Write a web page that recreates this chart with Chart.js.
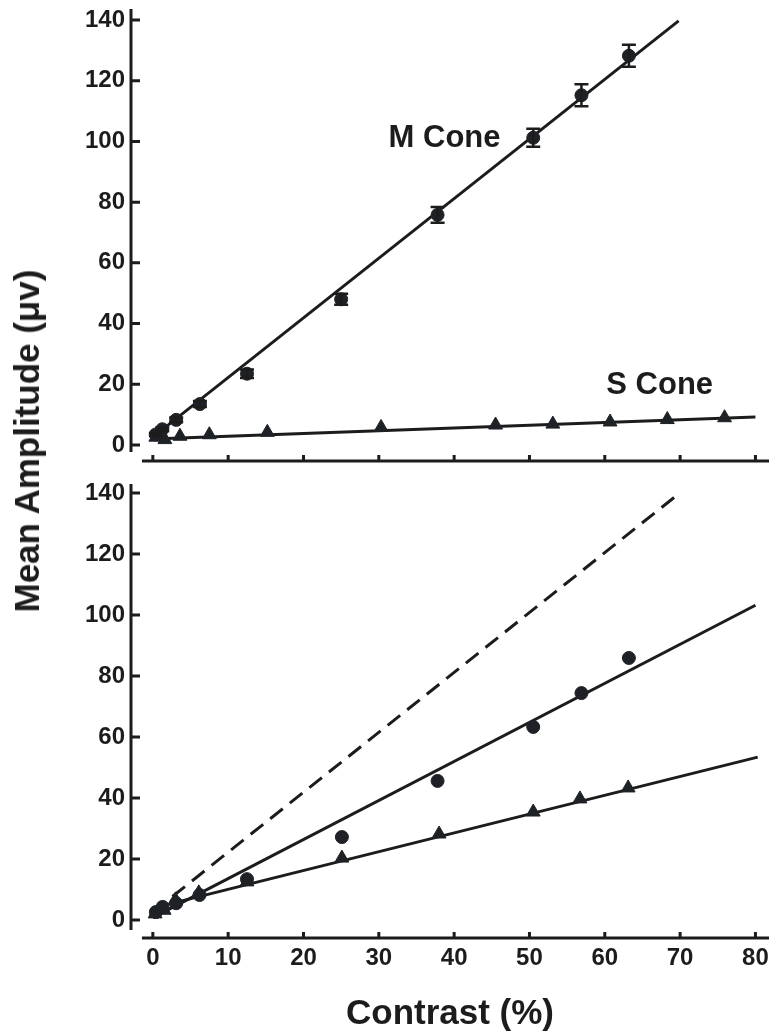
<!DOCTYPE html>
<html>
<head>
<meta charset="utf-8">
<script src="https://cdn.jsdelivr.net/npm/chart.js@4.4.1/dist/chart.umd.min.js"></script>
<style>
  body { margin: 0; background: #fff; width: 778px; height: 1032px; position: relative; overflow: hidden; }
  .panel { position: absolute; left: 0; width: 778px; }
  #yTitle {
    position: absolute; left: 27px; top: 441px;
    transform: translate(-50%, -50%) rotate(-90deg);
    font: bold 35px "Liberation Sans", Arial, sans-serif; color: #1c1c1c; white-space: nowrap;
  }
</style>
</head>
<body>
<div class="panel" style="top:0;height:470px"><canvas id="topChart" width="778" height="470"></canvas></div>
<div class="panel" style="top:470px;height:562px"><canvas id="bottomChart" width="778" height="562"></canvas></div>
<div id="yTitle">Mean Amplitude (μv)</div>
<script>
// axis ticks
const xTicks = [0, 10, 20, 30, 40, 50, 60, 70, 80];
const yTicks = [0, 20, 40, 60, 80, 100, 120, 140];

// top panel - M cone (circles, +/- error) and S cone (triangles)
const mConeX = [0.4, 1.25, 3.1, 6.25, 12.5, 25, 37.8, 50.5, 56.9, 63.2];
const mConeY = [3.5, 5.2, 8.3, 13.5, 23.5, 48, 75.8, 101.2, 115.2, 128.2];
const mConeErr = [0.5, 0.6, 0.8, 1.0, 1.4, 1.8, 2.6, 3.0, 3.6, 3.6];
const sConeX = [0.4, 1.6, 3.6, 7.5, 15.2, 30.3, 45.5, 53.1, 60.7, 68.3, 75.9];
const sConeY = [2.6, 1.8, 2.9, 3.4, 4.2, 5.8, 6.6, 6.9, 7.6, 8.4, 9.0];
const mFitX = [0, 69.8];
const mFitY = [2.6, 139.7];
const sFitX = [0, 80];
const sFitY = [2.0, 9.2];

// bottom panel
const circX = [0.4, 1.3, 3.1, 6.2, 12.5, 25.1, 37.8, 50.5, 56.9, 63.2];
const circY = [2.6, 4.3, 5.5, 8.2, 13.4, 27.2, 45.6, 63.3, 74.4, 85.9];
const triX = [0.3, 1.5, 3.0, 6.1, 12.5, 25.1, 38, 50.5, 56.7, 63.1];
const triY = [2.0, 3.2, 6.6, 8.9, 12.5, 20.3, 28.2, 35.4, 39.7, 43.3];
const circFitX = [0, 80];
const circFitY = [0.8, 103.2];
const triFitX = [0, 80.3];
const triFitY = [3.9, 53.4];

const INK = '#1c1c1c';
const FONT = '"Liberation Sans", Arial, sans-serif';

function pts(xs, ys) {
  return xs.map((x, i) => ({x: x, y: ys[i]}));
}

function fitLine(xs, ys, dash) {
  return {data: pts(xs, ys), showLine: true, pointRadius: 0, borderColor: INK,
          borderWidth: 3, borderDash: dash || [], order: 2};
}

function marks(xs, ys, style) {
  return {data: pts(xs, ys), showLine: false, pointStyle: style,
          pointRadius: style === 'triangle' ? 8 : 6.5, backgroundColor: '#1e2226',
          borderColor: '#1e2226', borderWidth: 1, order: 1};
}

// axis lines drawn offset like the original
const axesPlugin = {
  id: 'axes',
  afterDraw(chart, args, opts) {
    const {ctx, chartArea: a, scales: {x, y}} = chart;
    ctx.save();
    ctx.strokeStyle = INK;
    ctx.lineWidth = 3;
    ctx.beginPath();
    ctx.moveTo(a.left, a.top);
    ctx.lineTo(a.left, y.getPixelForValue(opts.yEnd));
    yTicks.forEach(v => {
      const p = y.getPixelForValue(v);
      ctx.moveTo(a.left, p);
      ctx.lineTo(a.left + 9, p);
    });
    ctx.moveTo(x.getPixelForValue(-1.45), a.bottom);
    ctx.lineTo(a.right, a.bottom);
    xTicks.forEach(v => {
      const p = x.getPixelForValue(v);
      ctx.moveTo(p, a.bottom);
      ctx.lineTo(p, a.bottom - 6);
    });
    ctx.stroke();
    ctx.restore();
  }
};

const errorBars = {
  id: 'errorBars',
  afterDatasetsDraw(chart) {
    const {ctx, scales: {x, y}} = chart;
    ctx.save();
    ctx.strokeStyle = INK;
    ctx.lineWidth = 2.5;
    chart.data.datasets.forEach(ds => {
      if (!ds.errors) return;
      ds.data.forEach((p, i) => {
        const px = x.getPixelForValue(p.x);
        const hi = y.getPixelForValue(p.y + ds.errors[i]);
        const lo = y.getPixelForValue(p.y - ds.errors[i]);
        ctx.beginPath();
        ctx.moveTo(px, hi); ctx.lineTo(px, lo);
        ctx.moveTo(px - 7, hi); ctx.lineTo(px + 7, hi);
        ctx.moveTo(px - 7, lo); ctx.lineTo(px + 7, lo);
        ctx.stroke();
      });
    });
    ctx.restore();
  }
};

const notes = {
  id: 'notes',
  afterDatasetsDraw(chart, args, opts) {
    if (!opts.items) return;
    const {ctx, scales: {x, y}} = chart;
    ctx.save();
    ctx.fillStyle = INK;
    ctx.font = 'bold 31px ' + FONT;
    ctx.textAlign = 'left';
    ctx.textBaseline = 'alphabetic';
    opts.items.forEach(it => ctx.fillText(it.text, x.getPixelForValue(it.x), y.getPixelForValue(it.y)));
    ctx.restore();
  }
};

function scales(yMin, yMax, bottom) {
  return {
    x: {
      type: 'linear', min: -2.9, max: 81.8,
      grid: {display: false, drawTicks: false}, border: {display: false},
      afterBuildTicks: s => { s.ticks = xTicks.map(v => ({value: v})); },
      ticks: {display: bottom, padding: 6, color: INK, autoSkip: false, maxRotation: 0,
              font: {family: FONT, size: 24, weight: 'bold'}},
      title: {display: bottom, text: 'Contrast (%)', color: INK, align: 'center',
              font: {family: FONT, size: 35, weight: 'bold', lineHeight: 1}, padding: {top: 0, bottom: 0}},
      afterFit: s => { s.height = bottom ? 94 : 9; s.paddingLeft = 0; s.paddingRight = 0; }
    },
    y: {
      type: 'linear', min: yMin, max: yMax,
      grid: {display: false, drawTicks: false}, border: {display: false},
      afterBuildTicks: s => { s.ticks = yTicks.map(v => ({value: v})); },
      ticks: {padding: 6, color: INK, font: {family: FONT, size: 24, weight: 'bold'}},
      afterFit: s => { s.width = 131; s.paddingTop = 0; s.paddingBottom = 0; }
    }
  };
}

function baseOptions(top, yMin, yMax, yEnd, bottom, items) {
  return {
    responsive: false, animation: false, devicePixelRatio: 1,
    layout: {padding: {left: 0, right: 6, top: top, bottom: 0}},
    scales: scales(yMin, yMax, bottom),
    plugins: {legend: {display: false}, tooltip: {enabled: false},
              axes: {yEnd: yEnd}, notes: {items: items}},
    elements: {line: {tension: 0}}
  };
}

const mCone = marks(mConeX, mConeY, 'circle');
mCone.errors = mConeErr;

new Chart(document.getElementById('topChart'), {
  type: 'scatter',
  data: {datasets: [
    fitLine(mFitX, mFitY),
    fitLine(sFitX, sFitY),
    mCone,
    marks(sConeX, sConeY, 'triangle')
  ]},
  options: baseOptions(7, -5.25, 143.6, -2.3, false,
    [{text: 'M Cone', x: 31.3, y: 98}, {text: 'S Cone', x: 60.2, y: 16.7}]),
  plugins: [axesPlugin, errorBars, notes]
});

new Chart(document.getElementById('bottomChart'), {
  type: 'scatter',
  data: {datasets: [
    fitLine(mFitX, mFitY, [16, 9]),
    fitLine(circFitX, circFitY),
    fitLine(triFitX, triFitY),
    marks(circX, circY, 'circle'),
    marks(triX, triY, 'triangle')
  ]},
  options: baseOptions(14, -5.9, 142.95, -3.3, true, null),
  plugins: [axesPlugin, errorBars, notes]
});
</script>
</body>
</html>
